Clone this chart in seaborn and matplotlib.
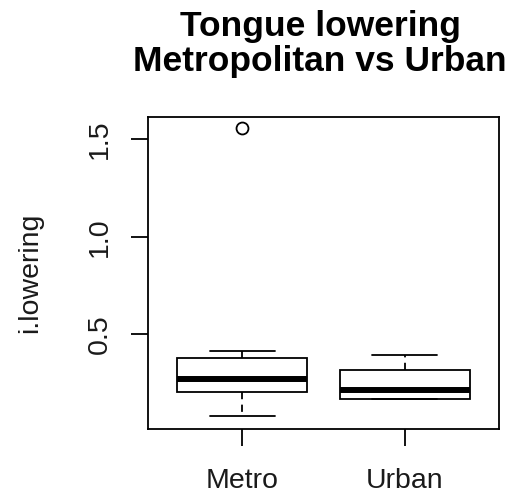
import matplotlib
matplotlib.use("Agg")
import matplotlib.pyplot as plt
import seaborn as sns
import pandas as pd

# Observations chosen to reproduce the read box statistics
groups = ["Metro", "Urban"]
metro_values = [0.081, 0.203, 0.203, 0.271, 0.271, 0.377, 0.377, 0.414, 1.556]
urban_values = [0.167, 0.167, 0.214, 0.317, 0.394]
y_ticks = [0.5, 1.0, 1.5]
y_tick_labels = ["0.5", "1.0", "1.5"]

df = pd.DataFrame({
    "group": ["Metro"] * len(metro_values) + ["Urban"] * len(urban_values),
    "i.lowering": metro_values + urban_values,
})

sns.set_style("white")
plt.rcParams["font.family"] = ["Liberation Sans", "DejaVu Sans"]

fig = plt.figure(figsize=(5.15, 4.99), dpi=100)
ax = fig.add_axes([0.2868, 0.1397, 0.9695 - 0.2868, 0.7661 - 0.1397])

sns.boxplot(
    data=df, x="group", y="i.lowering", order=groups, ax=ax,
    color="white", linecolor="black", linewidth=1.3, width=0.8, whis=1.5,
    medianprops=dict(linewidth=4.3, color="black"),
    whiskerprops=dict(linestyle=(0, (4, 3)), linewidth=1.3, color="black"),
    capprops=dict(linewidth=1.3, color="black"),
    flierprops=dict(marker="o", markersize=8.6, markerfacecolor="none",
                    markeredgecolor="black", markeredgewidth=1.3),
)

ax.set_xlim(-0.58, 1.58)
ax.set_ylim(0.013, 1.616)
ax.set_yticks(y_ticks)
ax.set_yticklabels(y_tick_labels)
ax.tick_params(axis="both", bottom=True, left=True, length=12.2, width=1.3,
               color="black", labelsize=20.5, labelcolor="#1a1a1a",
               direction="out")
ax.tick_params(axis="x", pad=16)
ax.tick_params(axis="y", pad=13, labelrotation=90)
for lab in ax.get_yticklabels():
    lab.set_va("center")
    lab.set_ha("right")

for sp in ax.spines.values():
    sp.set_visible(True)
    sp.set_color("black")
    sp.set_linewidth(1.3)

ax.set_xlabel("")
ax.set_ylabel("i.lowering", fontsize=20.5, color="#1a1a1a")
ax.yaxis.set_label_coords(-0.298, 0.5)

ax.set_title("Tongue lowering\nMetropolitan vs Urban", fontsize=25.5,
             fontweight="bold", linespacing=1.06, pad=33, color="black",
             x=0.49)

fig.savefig("out.png", dpi=100)
